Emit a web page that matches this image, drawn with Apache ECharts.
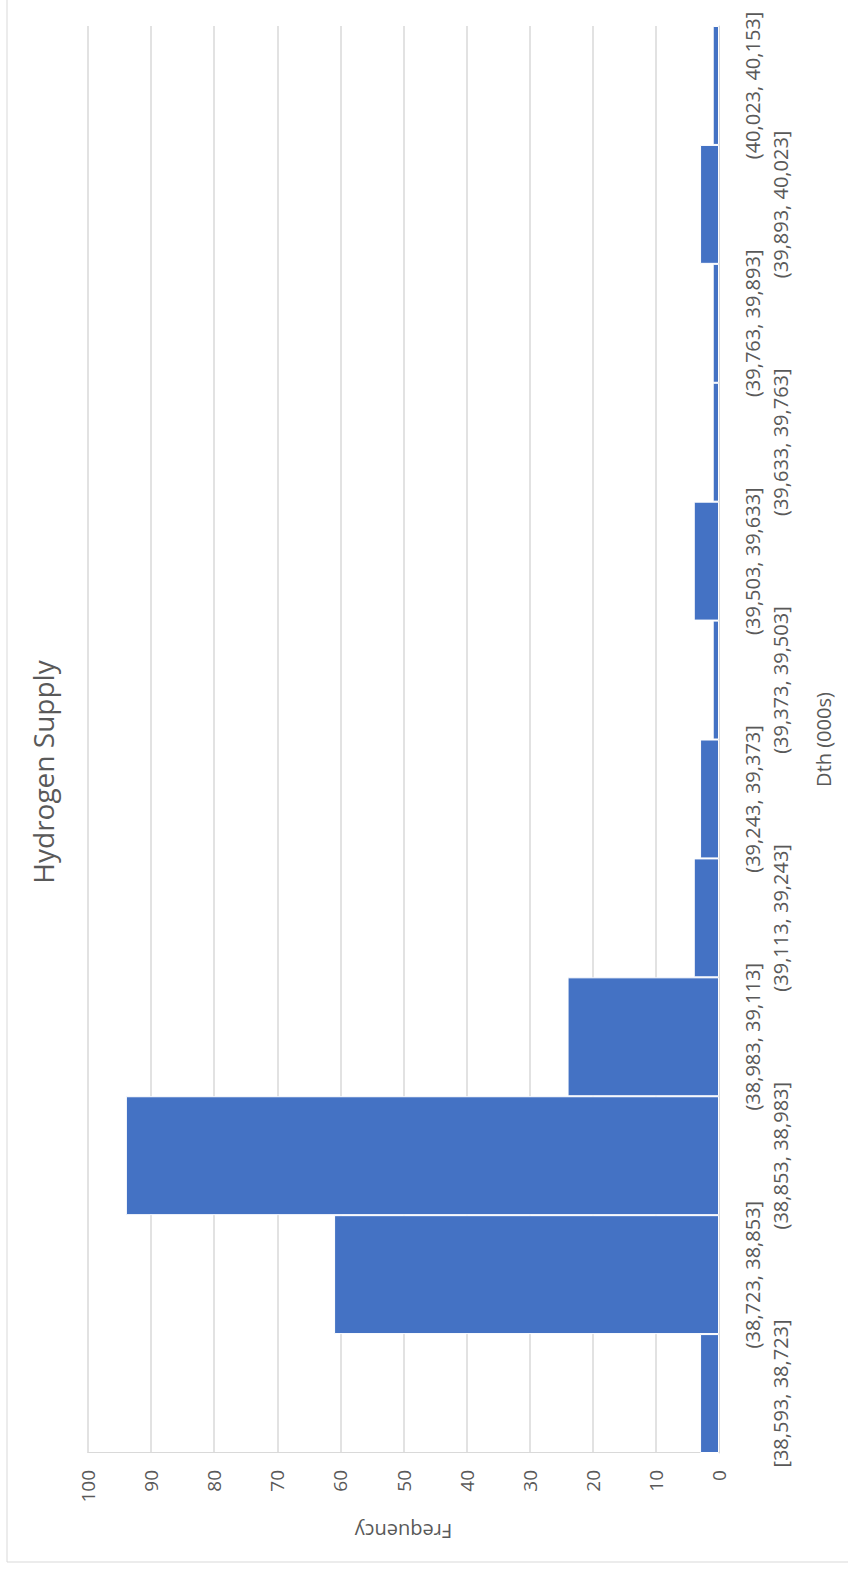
<!DOCTYPE html>
<html>
<head>
<meta charset="utf-8">
<script src="https://cdn.jsdelivr.net/npm/echarts@6/dist/echarts.min.js"></script>
<style>
html,body{margin:0;padding:0;width:848px;height:1570px;overflow:hidden;background:#fff;}
#wrap{position:absolute;left:0;top:0;width:1570px;height:848px;transform-origin:0 0;transform:translate(0px,1570px) rotate(-90deg);}
#chart{width:1570px;height:848px;}
</style>
</head>
<body>
<div id="wrap"><div id="chart"></div></div>
<script>
const title = 'Hydrogen Supply';
const xAxisTitle = 'Dth (000s)';
const yAxisTitle = 'Frequency';
const categories = [
  '[38,593, 38,723]', '(38,723, 38,853]', '(38,853, 38,983]', '(38,983, 39,113]',
  '(39,113, 39,243]', '(39,243, 39,373]', '(39,373, 39,503]', '(39,503, 39,633]',
  '(39,633, 39,763]', '(39,763, 39,893]', '(39,893, 40,023]', '(40,023, 40,153]'
];
const frequencies = [3, 61, 94, 24, 4, 3, 1, 4, 1, 1, 3, 1];
const yMin = 0, yMax = 100, yStep = 10;

const FONT = '"Open Sans", "Noto Sans", sans-serif';
const TXT = '#595959';
const chart = echarts.init(document.getElementById('chart'), null, {renderer: 'svg'});
chart.setOption({
  animation: false,
  backgroundColor: '#fff',
  textStyle: {fontFamily: FONT},
  title: {
    text: title, left: 793, top: 24, textAlign: 'center',
    textStyle: {fontFamily: FONT, fontSize: 28, fontWeight: 'normal', color: TXT}
  },
  graphic: [{
    type: 'rect', silent: true, z: -1,
    shape: {x: 8, y: 7, width: 1600, height: 900},
    style: {fill: 'none', stroke: '#d9d9d9', lineWidth: 1}
  }],
  grid: {left: 117, right: 26, top: 88, bottom: 129, containLabel: false},
  xAxis: {
    type: 'category', data: categories,
    axisTick: {show: false},
    axisLine: {show: true, lineStyle: {color: '#d9d9d9', width: 1}},
    axisLabel: {
      interval: 0, hideOverlap: false, margin: 19, color: TXT, fontFamily: FONT,
      fontSize: 20, lineHeight: 28,
      formatter: function (v, i) { return i % 2 === 0 ? '\n' + v : v; }
    },
    name: xAxisTitle, nameLocation: 'middle', nameGap: 94,
    nameTextStyle: {color: TXT, fontFamily: FONT, fontSize: 20}
  },
  yAxis: {
    type: 'value', min: yMin, max: yMax, interval: yStep,
    axisLine: {show: true, lineStyle: {color: '#d9d9d9'}},
    axisTick: {show: false},
    splitLine: {show: true, lineStyle: {color: '#d9d9d9', width: 1.5}},
    axisLabel: {margin: 17, color: TXT, fontFamily: FONT, fontSize: 19},
    name: yAxisTitle, nameLocation: 'middle', nameRotate: 90, nameGap: 68,
    nameTextStyle: {color: TXT, fontFamily: FONT, fontSize: 20}
  },
  series: [{
    type: 'bar', data: frequencies, barCategoryGap: '0%',
    itemStyle: {color: '#4472C4', borderColor: '#ffffff', borderWidth: 1}
  }]
});
</script>
</body>
</html>
